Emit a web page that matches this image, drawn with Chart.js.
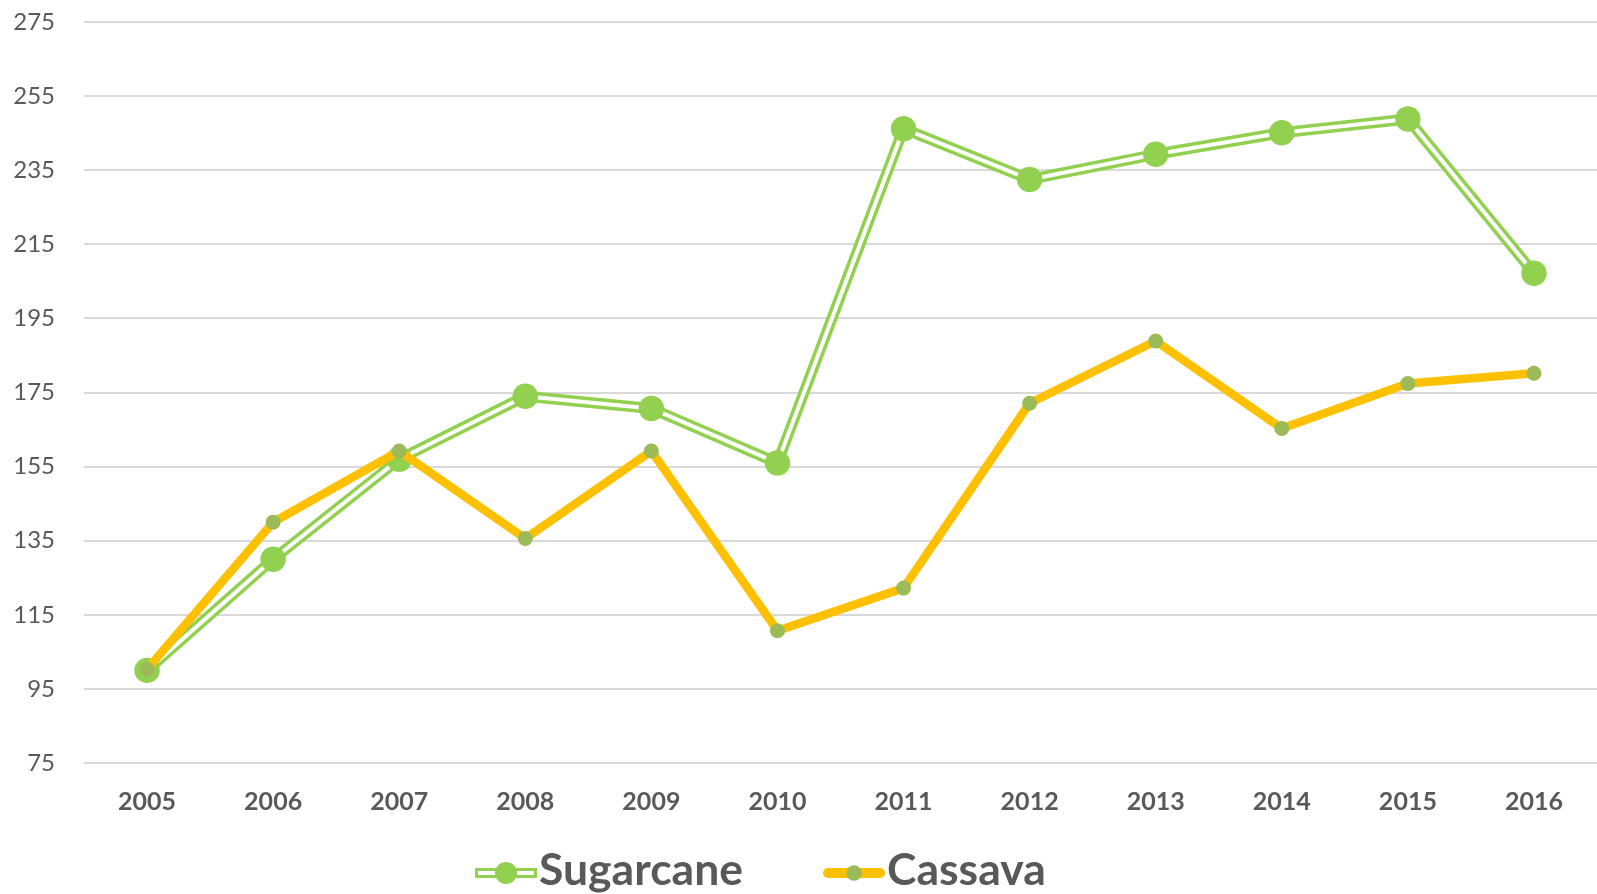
<!DOCTYPE html>
<html>
<head>
<meta charset="utf-8">
<script src="https://cdn.jsdelivr.net/npm/chart.js@4.4.0/dist/chart.umd.min.js"></script>
<style>
  html, body { margin: 0; padding: 0; background: #fff; }
  #wrap { width: 1597px; height: 894px; }
</style>
</head>
<body>
<div id="wrap"><canvas id="chart" width="1597" height="894"></canvas></div>
<script>
// data
const years = ["2005", "2006", "2007", "2008", "2009", "2010", "2011", "2012", "2013", "2014", "2015", "2016"];
const sugarcane = [100, 130, 157, 174, 170.7, 156, 246.2, 232.5, 239.3, 245.1, 248.8, 207.2];
const cassava = [100.3, 140, 159.2, 135.6, 159.2, 110.7, 122.2, 172.1, 188.9, 165.3, 177.4, 180.2];
const seriesNames = ["Sugarcane", "Cassava"];
const yMin = 75;
const yMax = 275;
const yStep = 20;

const GREEN = "#92D050";
const ORANGE = "#FFC000";
const OLIVE = "#9BBB59";
const TEXT = "#595959";

// legend drawn under the axis, Excel style (line + marker)
const bottomLegend = {
  id: "bottomLegend",
  afterDraw(chart) {
    const ctx = chart.ctx;
    ctx.save();
    ctx.font = "bold 44.5px Lato";
    ctx.textBaseline = "alphabetic";
    const markerW = 62, gap = 2, itemGap = 80;
    const y = 873, base = 885;
    let x = 475;

    // Sugarcane: double line with a big dot
    ctx.lineCap = "butt";
    ctx.strokeStyle = GREEN;
    ctx.lineWidth = 10;
    ctx.beginPath(); ctx.moveTo(x, y); ctx.lineTo(x + markerW, y); ctx.stroke();
    ctx.strokeStyle = "#fff";
    ctx.lineWidth = 4;
    ctx.beginPath(); ctx.moveTo(x + 3, y); ctx.lineTo(x + markerW - 3, y); ctx.stroke();
    ctx.fillStyle = GREEN;
    ctx.beginPath(); ctx.arc(x + markerW / 2, y, 11, 0, Math.PI * 2); ctx.fill();
    x += markerW + gap;
    ctx.fillStyle = TEXT;
    ctx.fillText(seriesNames[0], x, base);
    x += ctx.measureText(seriesNames[0]).width + itemGap;

    // Cassava: thick orange line with a small olive dot
    ctx.lineCap = "round";
    ctx.strokeStyle = ORANGE;
    ctx.lineWidth = 10;
    ctx.beginPath(); ctx.moveTo(x + 5, y); ctx.lineTo(x + markerW - 5, y); ctx.stroke();
    ctx.fillStyle = OLIVE;
    ctx.beginPath(); ctx.arc(x + markerW / 2, y, 7.8, 0, Math.PI * 2); ctx.fill();
    x += markerW + gap;
    ctx.fillStyle = TEXT;
    ctx.fillText(seriesNames[1], x, base);
    ctx.restore();
  }
};

new Chart(document.getElementById("chart"), {
  type: "line",
  data: {
    labels: years,
    datasets: [
      {
        label: seriesNames[0],
        data: sugarcane,
        borderColor: GREEN,
        borderWidth: 11,
        borderJoinStyle: "round",
        pointRadius: 0,
        tension: 0,
        order: 3
      },
      {
        // white core of the double line, plus the dots
        label: seriesNames[0] + " core",
        data: sugarcane,
        borderColor: "#fff",
        borderWidth: 4,
        borderJoinStyle: "round",
        pointRadius: 12.7,
        pointBackgroundColor: GREEN,
        pointBorderWidth: 0,
        tension: 0,
        order: 2
      },
      {
        label: seriesNames[1],
        data: cassava,
        borderColor: ORANGE,
        borderWidth: 8.5,
        borderJoinStyle: "round",
        pointRadius: 7.5,
        pointBackgroundColor: OLIVE,
        pointBorderWidth: 0,
        tension: 0,
        order: 1
      }
    ]
  },
  options: {
    responsive: false,
    animation: false,
    layout: { autoPadding: false, padding: { top: 22, right: -1, bottom: 0, left: 0 } },
    plugins: {
      legend: { display: false },
      tooltip: { enabled: false }
    },
    scales: {
      x: {
        offset: true,
        grid: { display: false, drawTicks: false },
        border: { display: false },
        ticks: {
          autoSkip: false,
          maxRotation: 0,
          padding: 24,
          color: TEXT,
          font: { family: "Lato", size: 25, weight: "bold" }
        },
        afterFit(scale) {
          scale.height = 131;
          scale.paddingLeft = 0;
          scale.paddingRight = 0;
        }
      },
      y: {
        min: yMin,
        max: yMax,
        grid: { color: "#D9D9D9", lineWidth: 2, drawTicks: false },
        border: { display: false },
        ticks: {
          stepSize: yStep,
          padding: 29,
          color: TEXT,
          font: { family: "Lato", size: 24 }
        },
        afterFit(scale) {
          scale.width = 84;
          scale.paddingTop = 0;
          scale.paddingBottom = 0;
        }
      }
    }
  },
  plugins: [bottomLegend]
});
</script>
</body>
</html>
